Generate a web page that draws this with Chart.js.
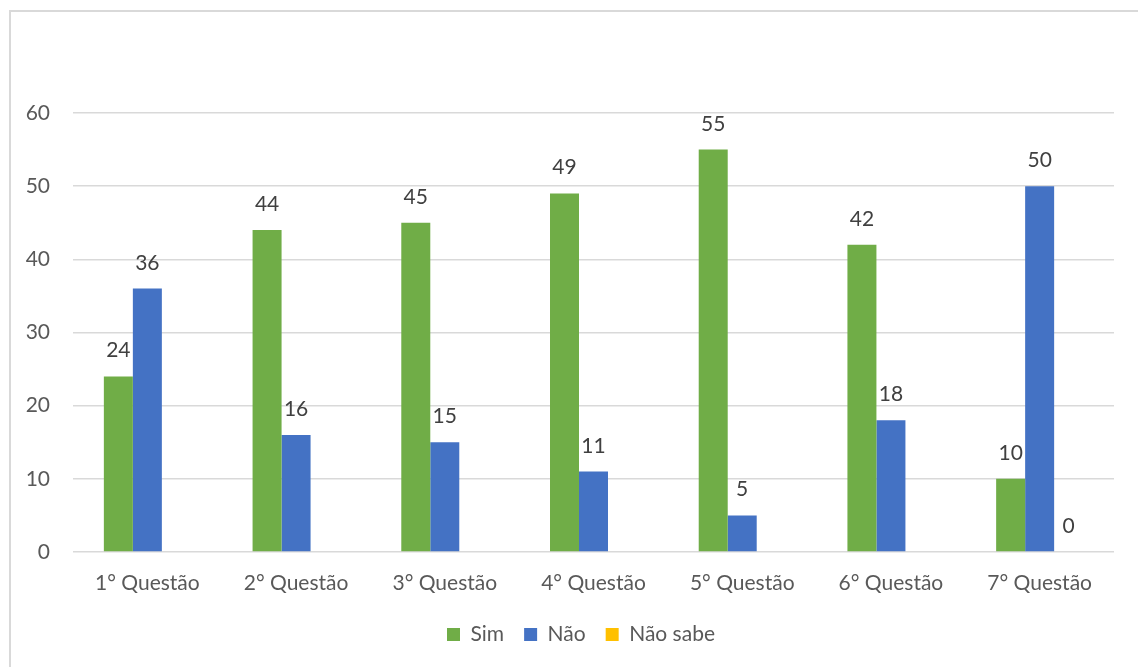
<!DOCTYPE html>
<html>
<head>
    <meta charset="utf-8">
    <title>Respostas por questão</title>
    <script src="https://cdn.jsdelivr.net/npm/chart.js"></script>
    <style>
        body { margin: 0; background: #fff; }
        #wrap { position: relative; width: 1138px; height: 667px; overflow: hidden; }
        #moldura {
            position: absolute; left: 9px; top: 10px; width: 1200px; height: 700px;
            border-left: 2px solid #d9d9d9; border-top: 2px solid #d9d9d9;
            box-sizing: border-box; pointer-events: none;
        }
        #grafico { position: absolute; left: 0; top: 0; }
    </style>
</head>
<body>
<div id="wrap">
    <canvas id="grafico" width="1138" height="667"></canvas>
    <div id="moldura"></div>
</div>
<script>
    // Categorias e valores das respostas
    const questoes = ['1° Questão', '2° Questão', '3° Questão', '4° Questão', '5° Questão', '6° Questão', '7° Questão'];
    const sim = [24, 44, 45, 49, 55, 42, 10];
    const nao = [36, 16, 15, 11, 5, 18, 50];
    const naoSabe = [null, null, null, null, null, null, 0];

    const fonte = "Lato, 'Open Sans', sans-serif";

    // Rótulos com o valor acima de cada barra
    const rotulosValor = {
        id: 'rotulosValor',
        afterDatasetsDraw(chart) {
            const ctx = chart.ctx;
            ctx.save();
            ctx.font = '21px ' + fonte;
            ctx.fillStyle = '#404040';
            ctx.textAlign = 'center';
            ctx.textBaseline = 'alphabetic';
            chart.data.datasets.forEach((ds, i) => {
                const meta = chart.getDatasetMeta(i);
                meta.data.forEach((bar, j) => {
                    const v = ds.data[j];
                    if (v === null || v === undefined) return;
                    ctx.fillText(String(v), bar.x, bar.y - 19);
                });
            });
            ctx.restore();
        }
    };

    // Legenda centrada na largura total do quadro
    const centrarLegenda = {
        id: 'centrarLegenda',
        afterLayout(chart) {
            chart.legend.left += 24;
            chart.legend.right += 24;
        }
    };

    const config = {
        type: 'bar',
        data: {
            labels: questoes,
            datasets: [
                { label: 'Sim', data: sim, backgroundColor: '#70ad47' },
                { label: 'Não', data: nao, backgroundColor: '#4472c4' },
                { label: 'Não sabe', data: naoSabe, backgroundColor: '#ffc000' }
            ]
        },
        options: {
            responsive: false,
            animation: false,
            layout: { padding: { left: 0, right: 24, top: 113, bottom: 12 } },
            datasets: {
                bar: { barPercentage: 1, categoryPercentage: 0.585 }
            },
            scales: {
                x: {
                    grid: { display: false, drawTicks: false },
                    border: { display: false },
                    ticks: { color: '#595959', font: { family: fonte, size: 21 }, padding: 19 },
                    afterFit(scale) { scale.height = 52; }
                },
                y: {
                    min: 0,
                    max: 60,
                    grid: { color: '#d9d9d9', lineWidth: 1.5, drawTicks: false },
                    border: { display: false },
                    ticks: { stepSize: 10, color: '#595959', font: { family: fonte, size: 21 }, padding: 23 },
                    afterFit(scale) { scale.width = 73; }
                }
            },
            plugins: {
                legend: {
                    position: 'bottom',
                    labels: {
                        boxWidth: 13,
                        boxHeight: 13,
                        padding: 20,
                        color: '#595959',
                        font: { family: fonte, size: 21 }
                    }
                },
                tooltip: { enabled: false }
            }
        },
        plugins: [rotulosValor, centrarLegenda]
    };

    const grafico = new Chart(document.getElementById('grafico'), config);
</script>
</body>
</html>
